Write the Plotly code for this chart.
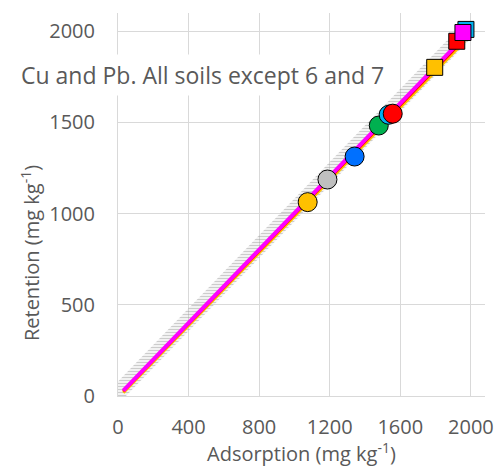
import plotly.graph_objects as go

# Circles (Cu)
cu_ads = [1075, 1187, 1341, 1478, 1534, 1557]
cu_ret = [1063, 1187, 1313, 1483, 1542, 1548]
cu_colors = ["#FFC000", "#BFBFBF", "#0070FF", "#00B050", "#00B0F0", "#FF0000"]

# Squares (Pb)
pb_ads = [1795, 1972, 1920, 1955]
pb_ret = [1802, 2010, 1945, 1993]
pb_colors = ["#FFC000", "#00B0F0", "#FF0000", "#FF00FF"]

# Fit lines
fit_x = [30, 1965]
fit_lines = {
    "#FFC000": [18, 1945],
    "#FF0000": [26, 1960],
    "#FF00FF": [30, 1972],
}

# Hatched band
band_x = [0, 0, 1960, 2010, 45]
band_y = [0, 80, 2045, 1970, 0]

x_ticks = [0, 400, 800, 1200, 1600, 2000]
y_ticks = [0, 500, 1000, 1500, 2000]

FONT = "Open Sans"
GRAY = "#595959"
GRID = "#D9D9D9"

fig = go.Figure()

fig.add_trace(go.Scatter(
    x=band_x, y=band_y, mode="lines", fill="toself",
    line=dict(width=0, color="rgba(0,0,0,0)"),
    fillcolor="rgba(255,255,255,0)",
    fillpattern=dict(shape="-", fgcolor="#9A9A9A", bgcolor="rgba(255,255,255,0)",
                     size=3, solidity=0.5, fillmode="overlay"),
    hoverinfo="skip", showlegend=False))

for col, ys in fit_lines.items():
    fig.add_trace(go.Scatter(x=fit_x, y=ys, mode="lines",
                             line=dict(color=col, width=3 if col != "#FF00FF" else 4),
                             showlegend=False))

fig.add_trace(go.Scatter(
    x=cu_ads, y=cu_ret, mode="markers",
    marker=dict(symbol="circle", size=19, color=cu_colors, line=dict(color="black", width=1)),
    showlegend=False))

fig.add_trace(go.Scatter(
    x=pb_ads, y=pb_ret, mode="markers",
    marker=dict(symbol="square", size=16, color=pb_colors, line=dict(color="black", width=1)),
    showlegend=False))

fig.add_annotation(
    text="Cu and Pb. All soils except 6 and 7",
    xref="paper", yref="paper", x=0.23, y=0.838,
    xanchor="center", yanchor="middle", showarrow=False,
    font=dict(family=FONT, size=23, color=GRAY),
    bgcolor="white", borderpad=4)

fig.add_annotation(
    text="Retention (mg kg<sup>-1</sup>)",
    xref="paper", yref="paper", x=-0.24, y=0.373,
    xanchor="center", yanchor="middle", showarrow=False, textangle=-90,
    font=dict(family=FONT, size=20, color=GRAY))

fig.add_annotation(
    text="Adsorption (mg kg<sup>-1</sup>)",
    xref="paper", yref="paper", x=0.5, y=-0.148,
    xanchor="center", yanchor="middle", showarrow=False,
    font=dict(family=FONT, size=20, color=GRAY))

fig.update_layout(
    width=495, height=468,
    margin=dict(l=118, r=10, t=13, b=72),
    paper_bgcolor="white", plot_bgcolor="white",
    font=dict(family=FONT, color=GRAY),
    xaxis=dict(range=[0, 2080], tickvals=x_ticks, showgrid=True, gridcolor=GRID, gridwidth=1,
               showline=True, linecolor=GRID, zeroline=False, automargin=False,
               ticks="outside", ticklen=13, tickcolor="rgba(0,0,0,0)",
               tickfont=dict(family=FONT, size=20, color=GRAY)),
    yaxis=dict(range=[0, 2100], tickvals=y_ticks, showgrid=True, gridcolor=GRID, gridwidth=1,
               showline=True, linecolor=GRID, zeroline=False, automargin=False,
               ticks="outside", ticklen=18, tickcolor="rgba(0,0,0,0)",
               tickfont=dict(family=FONT, size=20, color=GRAY)),
)

fig.write_html("out.html")
